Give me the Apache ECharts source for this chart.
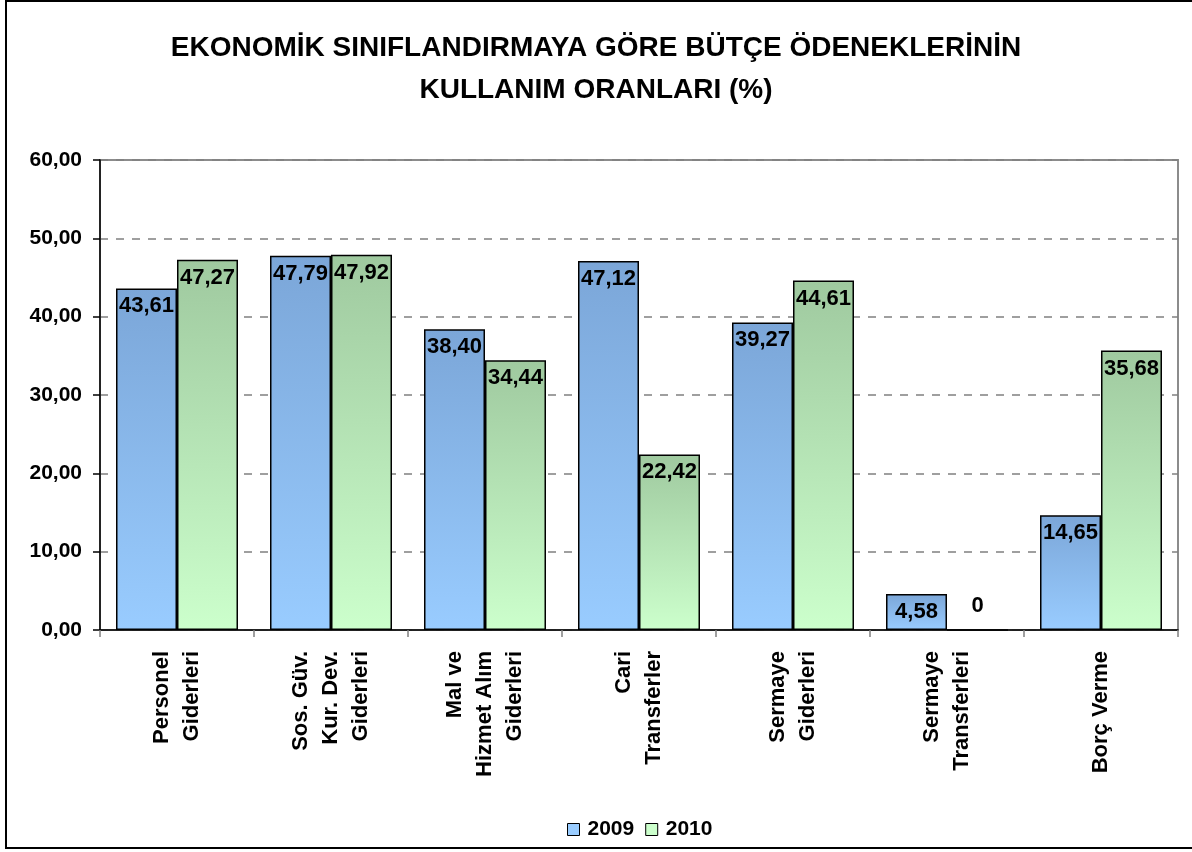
<!DOCTYPE html>
<html>
<head>
<meta charset="utf-8">
<script src="https://cdn.jsdelivr.net/npm/echarts@6/dist/echarts.min.js"></script>
<style>
html, body { margin: 0; padding: 0; background: #fff; }
#chart { width: 1192px; height: 852px; }
</style>
</head>
<body>
<div id="chart"></div>
<script>
// categories (line breaks as in the original axis labels)
var categories = [
    'Personel\nGiderleri',
    'Sos. Güv.\nKur. Dev.\nGiderleri',
    'Mal ve\nHizmet Alım\nGiderleri',
    'Cari\nTransferler',
    'Sermaye\nGiderleri',
    'Sermaye\nTransferleri',
    'Borç Verme'
];
var values2009 = [43.61, 47.79, 38.40, 47.12, 39.27, 4.58, 14.65];
var values2010 = [47.27, 47.92, 34.44, 22.42, 44.61, 0, 35.68];
var yTicks = [0, 10, 20, 30, 40, 50, 60];

var FONT = '"Liberation Sans", Arial, sans-serif';

function fmt(v) {
    if (v === 0) return '0';
    return v.toFixed(2).replace('.', ',');
}

function grad(top, bottom) {
    return new echarts.graphic.LinearGradient(0, 0, 0, 1, [
        { offset: 0, color: top },
        { offset: 1, color: bottom }
    ]);
}

function toData(arr) {
    return arr.map(function (v) {
        if (v === 0) {
            // Excel puts the "0" above the empty bar
            return { value: v, label: { position: 'top', distance: 12 } };
        }
        return v;
    });
}

var barLabel = {
    show: true,
    position: 'insideTop',
    distance: 7,
    color: '#000',
    fontFamily: FONT,
    fontWeight: 'bold',
    fontSize: 22,
    formatter: function (p) { return fmt(p.value); }
};

var chart = echarts.init(document.getElementById('chart'), null, { renderer: 'canvas' });

var option = {
    backgroundColor: '#fff',
    animation: false,
    title: {
        text: 'EKONOMİK SINIFLANDIRMAYA GÖRE BÜTÇE ÖDENEKLERİNİN\nKULLANIM ORANLARI (%)',
        left: 'center',
        top: 22,
        textStyle: {
            fontFamily: FONT,
            fontWeight: 'bold',
            fontSize: 28,
            lineHeight: 42,
            color: '#000'
        }
    },
    graphic: [
        {
            type: 'rect',
            shape: { x: 6, y: 1, width: 1200, height: 847 },
            style: { fill: 'none', stroke: '#000', lineWidth: 2 },
            silent: true
        }
    ],
    legend: {
        top: 814,
        left: 562,
        itemWidth: 12,
        itemHeight: 12,
        itemGap: 11,
        icon: 'rect',
        textStyle: {
            fontFamily: FONT,
            fontWeight: 'bold',
            fontSize: 21,
            color: '#000',
            padding: [0, 0, 0, 3]
        },
        data: [
            { name: '2009', itemStyle: { color: '#99ccff', borderColor: '#000', borderWidth: 1 } },
            { name: '2010', itemStyle: { color: '#ccffcc', borderColor: '#000', borderWidth: 1 } }
        ]
    },
    grid: {
        left: 100,
        right: 14,
        top: 160,
        bottom: 222,
        show: true,
        borderColor: '#8c8c8c',
        borderWidth: 2,
        containLabel: false
    },
    xAxis: {
        type: 'category',
        data: categories,
        axisLine: { lineStyle: { color: '#000', width: 1.5 } },
        axisTick: { show: true, length: 7, lineStyle: { color: '#808080', width: 1.5 } },
        axisLabel: {
            rotate: 90,
            margin: 21,
            interval: 0,
            fontFamily: FONT,
            fontWeight: 'bold',
            fontSize: 22,
            lineHeight: 30,
            color: '#000'
        }
    },
    yAxis: {
        type: 'value',
        min: 0,
        max: 60,
        interval: 10,
        axisLine: { show: true, lineStyle: { color: '#000', width: 1.5 } },
        axisTick: { show: true, length: 7, lineStyle: { color: '#000', width: 1.5 } },
        axisLabel: {
            margin: 18,
            fontFamily: FONT,
            fontWeight: 'bold',
            fontSize: 21,
            color: '#000',
            formatter: function (v) { return v === 0 ? '0,00' : fmt(v); }
        },
        splitLine: {
            show: true,
            lineStyle: { color: '#808080', type: [8, 8], width: 1.5 }
        }
    },
    series: [
        {
            name: '2009',
            type: 'bar',
            data: toData(values2009),
            barWidth: 61,
            barGap: '0%',
            itemStyle: {
                color: grad('#7ba6d8', '#99ccff'),
                borderColor: '#000',
                borderWidth: 1.5
            },
            label: barLabel
        },
        {
            name: '2010',
            type: 'bar',
            data: toData(values2010),
            barWidth: 61,
            barGap: '0%',
            itemStyle: {
                color: grad('#9fc99f', '#ccffcc'),
                borderColor: '#000',
                borderWidth: 1.5
            },
            label: barLabel
        }
    ]
};

chart.setOption(option);

window.addEventListener('resize', function () {
    chart.resize();
});
</script>
</body>
</html>
